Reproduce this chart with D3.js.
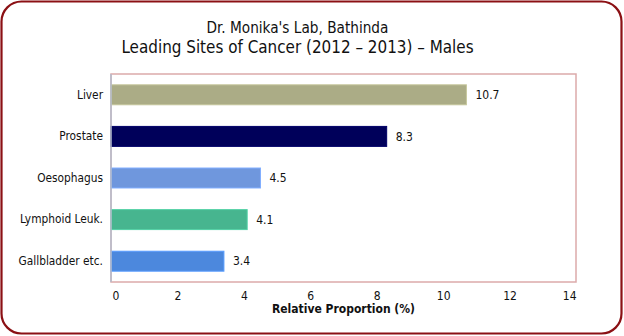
<!DOCTYPE html>
<html>
<head>
<meta charset="utf-8">
<script src="https://cdn.jsdelivr.net/npm/d3@7"></script>
<style>
html,body{margin:0;padding:0;background:#fff;}
svg{display:block;font-family:"DejaVu Sans Condensed","Open Sans",sans-serif;font-stretch:condensed;}
</style>
</head>
<body>
<svg id="chart" width="624" height="336"></svg>
<script>
const categories = ["Liver", "Prostate", "Oesophagus", "Lymphoid Leuk.", "Gallbladder etc."];
const values = [10.7, 8.3, 4.5, 4.1, 3.4];
const barColors = ["#abac86", "#00005a", "#6f97dd", "#47b58f", "#4c88dd"];
const xTicks = [0, 2, 4, 6, 8, 10, 12, 14];
const titleLines = ["Dr. Monika's Lab, Bathinda", "Leading Sites of Cancer (2012 \u2013 2013) \u2013 Males"];
const xAxisTitle = "Relative Proportion (%)";

const FONT = '"DejaVu Sans Condensed","Open Sans",sans-serif';
const svg = d3.select("#chart");

// outer frame
svg.append("rect")
  .attr("x", 1.5).attr("y", 1.5)
  .attr("width", 620).attr("height", 332)
  .attr("rx", 20).attr("ry", 20)
  .attr("fill", "#fff")
  .attr("stroke", "#8b1014").attr("stroke-width", 2.2);

const plot = {left: 111, right: 576, top: 74, bottom: 282};

const x = d3.scaleLinear().domain([0, 14]).range([plot.left, plot.right]);
const y = d3.scaleBand().domain(categories).range([plot.top, plot.bottom])
  .paddingInner(0.52).paddingOuter(0.26);

// titles
svg.append("text").attr("x", 297.5).attr("y", 33)
  .attr("text-anchor", "middle").attr("font-size", 15.2).attr("fill", "#111")
  .text(titleLines[0]);
svg.append("text").attr("x", 297.5).attr("y", 53)
  .attr("text-anchor", "middle").attr("font-size", 16.9).attr("fill", "#111")
  .text(titleLines[1]);

// plot border
svg.append("rect")
  .attr("x", plot.left).attr("y", plot.top)
  .attr("width", plot.right - plot.left).attr("height", plot.bottom - plot.top)
  .attr("fill", "none").attr("stroke", "#dcaaaa").attr("stroke-width", 1.5);

// bars
svg.append("g").selectAll("rect").data(categories).join("rect")
  .attr("x", x(0))
  .attr("y", d => y(d))
  .attr("width", (d, i) => x(values[i]) - x(0))
  .attr("height", y.bandwidth())
  .attr("fill", (d, i) => barColors[i])
  .attr("stroke", (d, i) => d3.color(barColors[i]).brighter(0.4))
  .attr("stroke-width", 1);

// left axis line
svg.append("line")
  .attr("x1", plot.left).attr("x2", plot.left)
  .attr("y1", plot.top).attr("y2", plot.bottom)
  .attr("stroke", "#b4bccc").attr("stroke-width", 1.5);

// category labels
const yAxis = d3.axisLeft(y).tickSize(0).tickPadding(8);
const yg = svg.append("g").attr("transform", `translate(${plot.left},0)`).call(yAxis);
yg.select(".domain").remove();
yg.selectAll("text").attr("font-size", 11.8).attr("fill", "#111")
  .attr("font-family", FONT);

// x axis tick labels
const xAxis = d3.axisBottom(x).tickValues(xTicks).tickSize(0).tickPadding(9).tickFormat(d3.format("d"));
const xg = svg.append("g").attr("transform", `translate(0,${plot.bottom})`).call(xAxis);
xg.select(".domain").remove();
xg.selectAll("text").attr("font-size", 12).attr("fill", "#111")
  .attr("font-family", FONT)
  .attr("text-anchor", d => d === 0 ? "start" : (d === 14 ? "end" : "middle"))
  .attr("dx", d => d === 0 ? 1 : 0);

// value labels
svg.append("g").selectAll("text").data(categories).join("text")
  .attr("x", (d, i) => x(values[i]) + 9)
  .attr("y", d => y(d) + y.bandwidth() / 2)
  .attr("dy", "0.35em")
  .attr("font-size", 12).attr("fill", "#111")
  .text((d, i) => values[i]);

// x axis title
svg.append("text").attr("x", (plot.left + plot.right) / 2).attr("y", 313)
  .attr("text-anchor", "middle").attr("font-size", 12).attr("font-weight", "bold")
  .attr("fill", "#111").text(xAxisTitle);
</script>
</body>
</html>
